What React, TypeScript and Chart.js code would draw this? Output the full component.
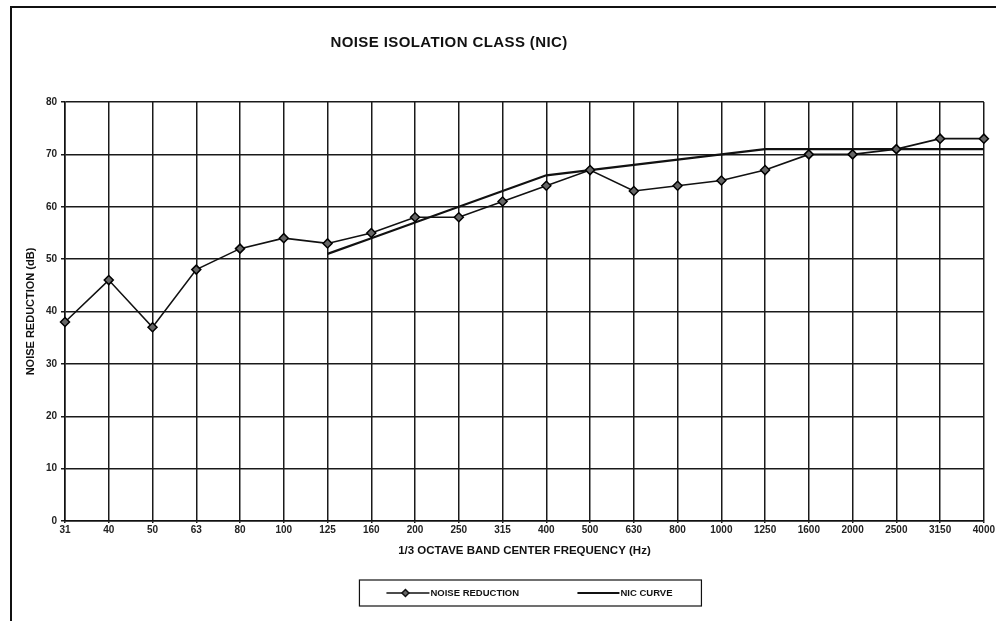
import React, { useEffect, useRef } from "react";
import { Chart, registerables } from "chart.js";

Chart.register(...registerables);

const FREQUENCIES = ["31", "40", "50", "63", "80", "100", "125", "160", "200", "250", "315", "400", "500", "630", "800", "1000", "1250", "1600", "2000", "2500", "3150", "4000"];
const NOISE_REDUCTION = [38, 46, 37, 48, 52, 54, 53, 55, 58, 58, 61, 64, 67, 63, 64, 65, 67, 70, 70, 71, 73, 73];
const NIC_CURVE = [null, null, null, null, null, null, 51, 54, 57, 60, 63, 66, 67, 68, 69, 70, 71, 71, 71, 71, 71, 71];
const Y_TICKS = [0, 10, 20, 30, 40, 50, 60, 70, 80];

const TITLE = "NOISE ISOLATION CLASS (NIC)";
const X_TITLE = "1/3 OCTAVE BAND CENTER FREQUENCY (Hz)";
const Y_TITLE = "NOISE REDUCTION (dB)";
const LEGEND_LABELS = ["NOISE REDUCTION", "NIC CURVE"];

const FONT = "'Liberation Sans', Arial, sans-serif";
const INK = "#111";

const decorPlugin = {
  id: "decor",
  afterDraw(chart: any) {
    const { ctx, chartArea } = chart;
    ctx.save();
    // title
    ctx.fillStyle = INK;
    ctx.font = `bold 15px ${FONT}`;
    (ctx as any).letterSpacing = "0.4px";
    ctx.textAlign = "center";
    ctx.textBaseline = "middle";
    ctx.fillText(TITLE, chartArea.left + chartArea.width * 0.418, chartArea.top - 59);
    (ctx as any).letterSpacing = "0px";

    // legend box
    const cx = (chartArea.left + chartArea.right) / 2 + 6;
    const bw = 342;
    const bh = 26;
    const bx = cx - bw / 2;
    const by = chartArea.bottom + 59;
    ctx.strokeStyle = INK;
    ctx.lineWidth = 1.2;
    ctx.strokeRect(bx, by, bw, bh);
    const my = by + bh / 2;
    const ds = chart.data.datasets;
    ctx.font = `bold 9.5px ${FONT}`;
    ctx.textAlign = "left";
    // item 1
    ctx.strokeStyle = ds[0].borderColor;
    ctx.lineWidth = 1.5;
    ctx.beginPath();
    ctx.moveTo(bx + 27, my);
    ctx.lineTo(bx + 70, my);
    ctx.stroke();
    ctx.fillStyle = ds[0].pointBackgroundColor;
    ctx.beginPath();
    const dx = bx + 46;
    const r = 3.5;
    ctx.moveTo(dx, my - r);
    ctx.lineTo(dx + r, my);
    ctx.lineTo(dx, my + r);
    ctx.lineTo(dx - r, my);
    ctx.closePath();
    ctx.fill();
    ctx.stroke();
    ctx.fillStyle = INK;
    ctx.fillText(LEGEND_LABELS[0], bx + 71, my + 0.5);
    // item 2
    ctx.strokeStyle = ds[1].borderColor;
    ctx.lineWidth = 2;
    ctx.beginPath();
    ctx.moveTo(bx + 218, my);
    ctx.lineTo(bx + 260, my);
    ctx.stroke();
    ctx.fillText(LEGEND_LABELS[1], bx + 261, my + 0.5);
    ctx.restore();
  },
};

export default function App() {
  const canvasRef = useRef<HTMLCanvasElement | null>(null);

  useEffect(() => {
    const canvas = canvasRef.current;
    if (!canvas) return;
    const chart = new Chart(canvas, {
      type: "line",
      data: {
        labels: FREQUENCIES,
        datasets: [
          {
            label: LEGEND_LABELS[0],
            data: NOISE_REDUCTION,
            borderColor: INK,
            borderWidth: 1.6,
            pointStyle: "rectRot",
            pointRadius: 4.5,
            pointBackgroundColor: "#666",
            pointBorderColor: "#000",
            pointBorderWidth: 1.5,
            tension: 0,
            fill: false,
          },
          {
            label: LEGEND_LABELS[1],
            data: NIC_CURVE as any,
            borderColor: INK,
            borderWidth: 2.2,
            pointRadius: 0,
            tension: 0,
            spanGaps: false,
            fill: false,
          },
        ],
      },
      options: {
        responsive: false,
        animation: false,
        devicePixelRatio: 1,
        layout: { padding: { top: 102, right: 11, left: 20, bottom: 60 } },
        plugins: {
          legend: { display: false },
          title: { display: false },
          tooltip: { enabled: false },
        },
        scales: {
          x: {
            type: "category",
            offset: false,
            grid: { color: "#1a1a1a", lineWidth: 1.5, tickLength: 2, drawTicks: true },
            border: { color: INK, width: 1.5 },
            ticks: {
              color: "#222",
              font: { family: FONT, size: 10, weight: "bold" },
              padding: 1,
              maxRotation: 0,
              autoSkip: false,
            },
            title: {
              display: true,
              text: X_TITLE,
              color: INK,
              font: { family: FONT, size: 11.5, weight: "bold" },
              padding: { top: 0, bottom: 3 },
            },
            afterFit(scale: any) {
              scale.height = 40;
            },
          },
          y: {
            min: 0,
            max: 80,
            afterBuildTicks(scale: any) {
              scale.ticks = Y_TICKS.map((v) => ({ value: v }));
            },
            grid: { color: "#1a1a1a", lineWidth: 1.5, tickLength: 4 },
            border: { color: INK, width: 1.5 },
            ticks: {
              color: "#222",
              font: { family: FONT, size: 10, weight: "bold" },
              padding: 4,
            },
            title: {
              display: true,
              text: Y_TITLE,
              color: INK,
              font: { family: FONT, size: 11, weight: "bold" },
              padding: { top: 4, bottom: 0 },
            },
            afterFit(scale: any) {
              scale.width = 45;
            },
          },
        },
      },
      plugins: [decorPlugin],
    });
    return () => chart.destroy();
  }, []);

  return (
    <div style={{ position: "fixed", left: 0, top: 0, width: 996, height: 621, overflow: "hidden", background: "#fff" }}>
      <div
        style={{
          position: "absolute",
          left: 10,
          top: 6,
          width: 1010,
          height: 650,
          border: "2px solid #111",
          boxSizing: "border-box",
        }}
      />
      <canvas ref={canvasRef} width={996} height={621} style={{ position: "absolute", left: 0, top: 0, width: 996, height: 621 }} />
    </div>
  );
}
